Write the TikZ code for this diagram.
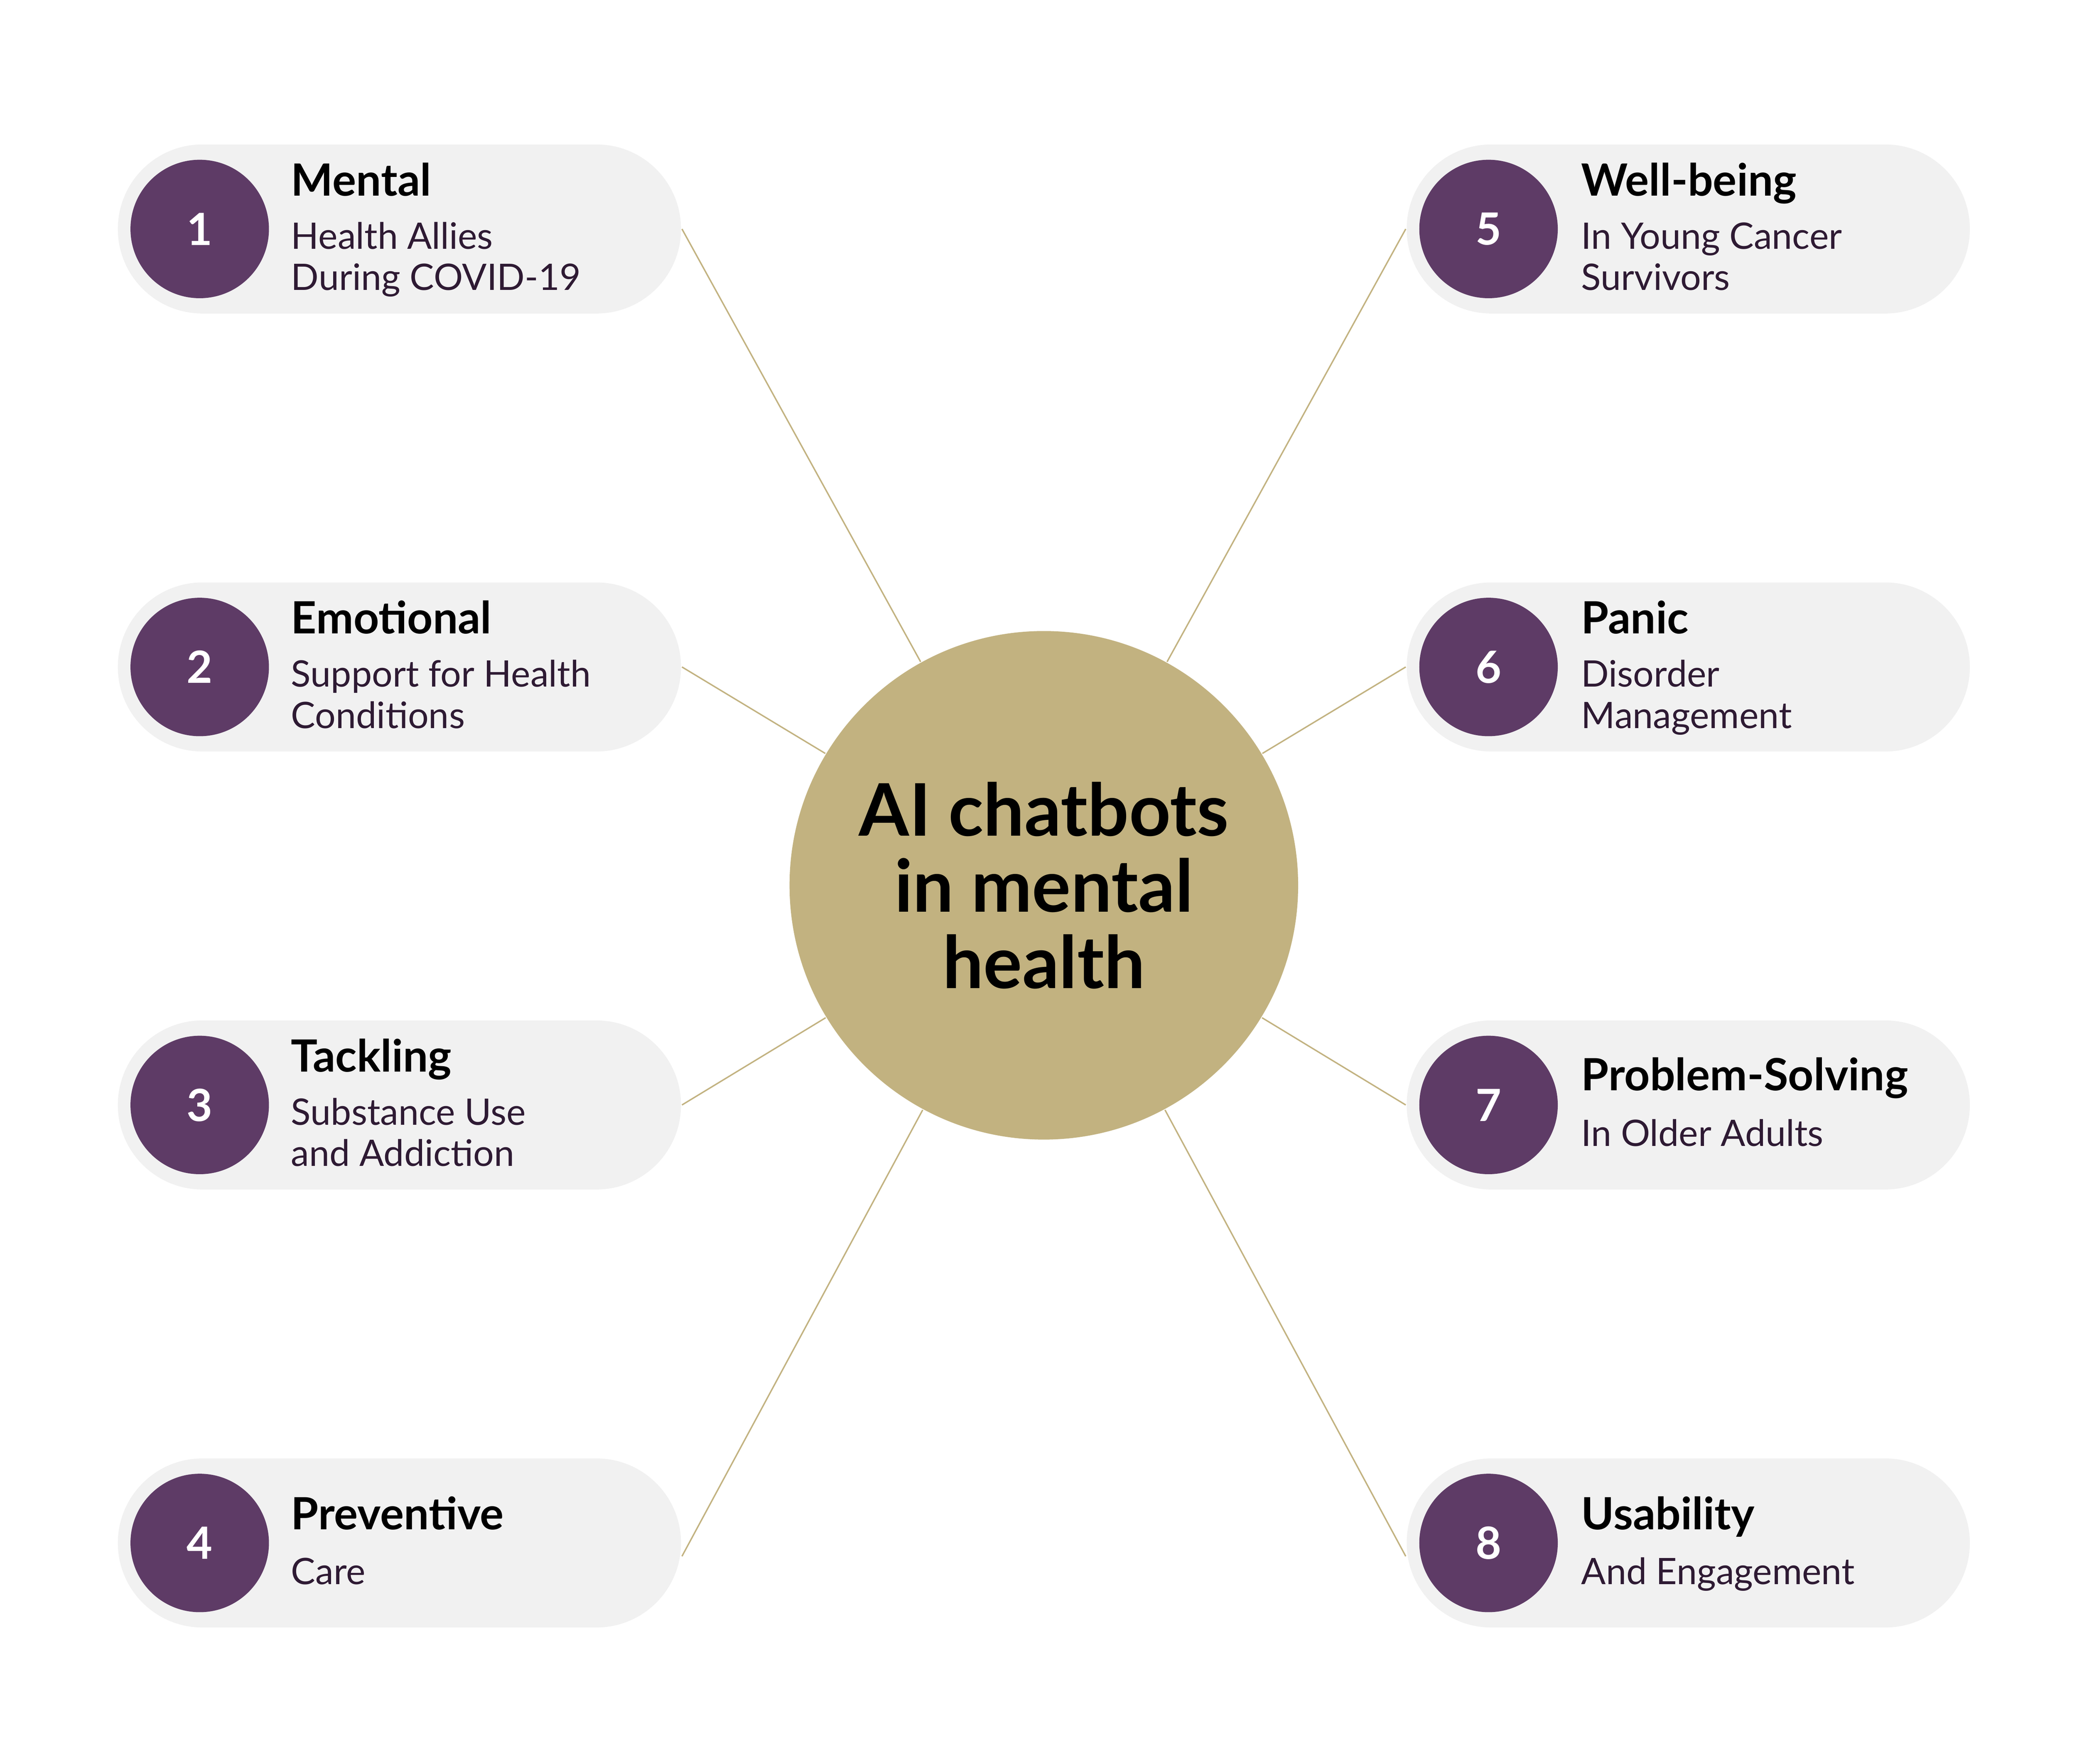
\documentclass[tikz,border=0pt]{standalone}
\usepackage{fontspec}
\setmainfont{Lato}
\usetikzlibrary{positioning}
\definecolor{chatgold}{HTML}{C2B280}
\definecolor{chatpurple}{HTML}{5E3B66}
\definecolor{pillgray}{HTML}{F1F1F1}
\definecolor{subpurple}{HTML}{2E1A33}

\begin{document}
\begin{tikzpicture}
                    \tikzstyle{pill} = [rectangle, rounded corners=0.635cm, fill=pillgray, minimum width=4.23cm, minimum height=1.27cm, inner sep=0]
                    \tikzstyle{num} = [circle, fill=chatpurple, minimum size=1.04cm, inner sep=0, text=white, font=\bfseries\fontsize{9.5}{11}\selectfont]
                    \tikzstyle{head} = [anchor=base west, inner sep=0, font=\bfseries\fontsize{9.5}{11}\selectfont]
                    \tikzstyle{sub} = [anchor=base west, inner sep=0, text=subpurple, font=\fontsize{7.8}{9}\selectfont]
                    \tikzstyle{link} = [draw=chatgold, line width=0.3pt]

                    \useasboundingbox (0,0) rectangle (15.6,-13.25);
                    \node[circle, fill=chatgold, minimum size=3.82cm, inner sep=0, align=center, font=\bfseries\fontsize{15.5}{16.3}\selectfont](center) at (7.84,-6.65) {AI chatbots\\in mental\\health};

                    % left column
                    \node[pill](p1) at (3.00,-1.72) {};
                    \node[pill](p2) at (3.00,-5.01) {};
                    \node[pill](p3) at (3.00,-8.30) {};
                    \node[pill](p4) at (3.00,-11.59) {};
                    % right column
                    \node[pill](p5) at (12.68,-1.72) {};
                    \node[pill](p6) at (12.68,-5.01) {};
                    \node[pill](p7) at (12.68,-8.30) {};
                    \node[pill](p8) at (12.68,-11.59) {};

                    \node[num](n1) at (1.50,-1.72) {1};
                    \node[num](n2) at (1.50,-5.01) {2};
                    \node[num](n3) at (1.50,-8.30) {3};
                    \node[num](n4) at (1.50,-11.59) {4};
                    \node[num](n5) at (11.18,-1.72) {5};
                    \node[num](n6) at (11.18,-5.01) {6};
                    \node[num](n7) at (11.18,-8.30) {7};
                    \node[num](n8) at (11.18,-11.59) {8};

                    \node[head](h1) at (2.18,-1.47) {Mental};
                    \node[sub](s1a) at (2.18,-1.87) {Health Allies};
                    \node[sub](s1b) at (2.18,-2.18) {During COVID-19};
                    \node[head](h2) at (2.18,-4.76) {Emotional};
                    \node[sub](s2a) at (2.18,-5.16) {Support for Health};
                    \node[sub](s2b) at (2.18,-5.47) {Conditions};
                    \node[head](h3) at (2.18,-8.05) {Tackling};
                    \node[sub](s3a) at (2.18,-8.45) {Substance Use};
                    \node[sub](s3b) at (2.18,-8.76) {and Addiction};
                    \node[head](h4) at (2.18,-11.49) {Preventive};
                    \node[sub](s4a) at (2.18,-11.90) {Care};

                    \node[head](h5) at (11.87,-1.47) {Well-being};
                    \node[sub](s5a) at (11.87,-1.87) {In Young Cancer};
                    \node[sub](s5b) at (11.87,-2.18) {Survivors};
                    \node[head](h6) at (11.87,-4.76) {Panic};
                    \node[sub](s6a) at (11.87,-5.16) {Disorder};
                    \node[sub](s6b) at (11.87,-5.47) {Management};
                    \node[head](h7) at (11.87,-8.19) {Problem-Solving};
                    \node[sub](s7a) at (11.87,-8.61) {In Older Adults};
                    \node[head](h8) at (11.87,-11.49) {Usability};
                    \node[sub](s8a) at (11.87,-11.90) {And Engagement};

                    \draw[link] (p1.east) -- (center);
                    \draw[link] (p2.east) -- (center);
                    \draw[link] (p3.east) -- (center);
                    \draw[link] ([yshift=-1mm]p4.east) -- (center);
                    \draw[link] (p5.west) -- (center);
                    \draw[link] (p6.west) -- (center);
                    \draw[link] (p7.west) -- (center);
                    \draw[link] ([yshift=-1mm]p8.west) -- (center);
            \end{tikzpicture}
\end{document}
